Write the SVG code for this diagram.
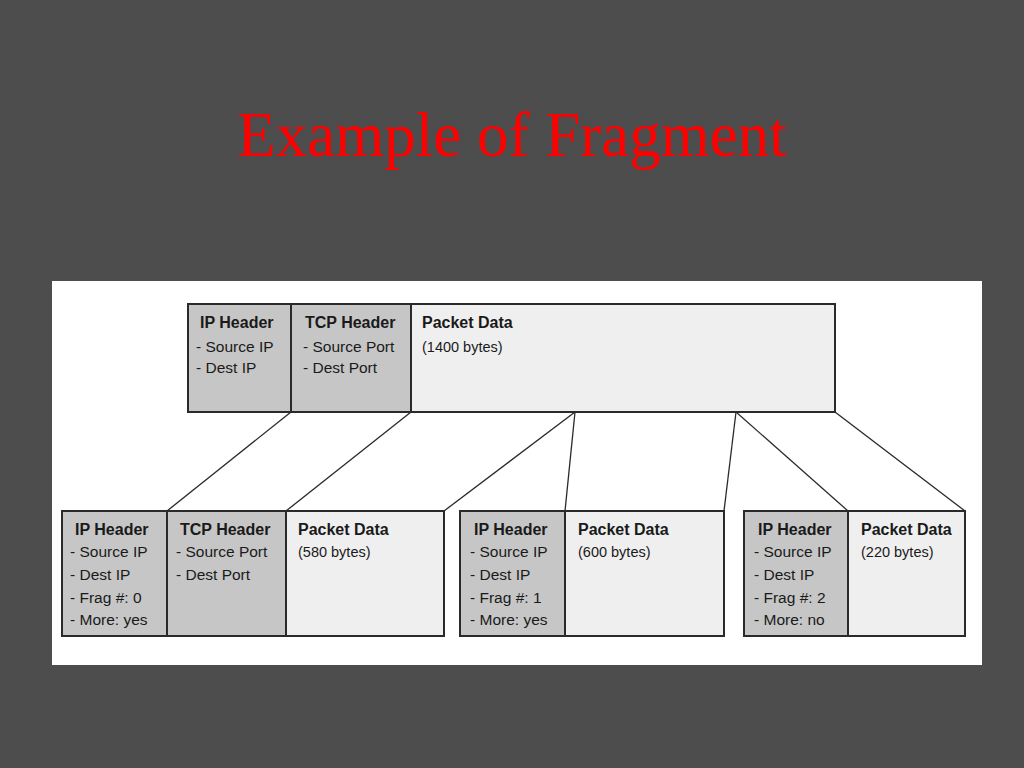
<svg xmlns="http://www.w3.org/2000/svg" width="1024" height="768" viewBox="0 0 1024 768">
<style>
.hdr{fill:#c6c6c6;stroke:#2a2a2a;stroke-width:2}
.dat{fill:#efefef;stroke:#2a2a2a;stroke-width:2}
.b{font-family:"Liberation Sans",Arial,sans-serif;font-weight:bold;font-size:16px;fill:#1a1a1a}
.r{font-family:"Liberation Sans",Arial,sans-serif;font-size:15.5px;fill:#1a1a1a}
.s{font-family:"Liberation Sans",Arial,sans-serif;font-size:14.5px;fill:#1a1a1a}
.ln{stroke:#2a2a2a;stroke-width:1.3;fill:none}
</style>
<rect x="0" y="0" width="1024" height="768" fill="#4d4d4d"/>
<text x="512" y="156" text-anchor="middle" font-family="'Liberation Serif','Times New Roman',serif" font-size="63" fill="#ff0000">Example of Fragment</text>
<rect x="52" y="281" width="930" height="384" fill="#ffffff"/>
<g id="connectors">
<line class="ln" x1="291" y1="412" x2="167" y2="511"/>
<line class="ln" x1="411" y1="412" x2="286" y2="511"/>
<line class="ln" x1="575" y1="412" x2="444" y2="511"/>
<line class="ln" x1="575" y1="412" x2="565" y2="511"/>
<line class="ln" x1="736" y1="412" x2="724" y2="511"/>
<line class="ln" x1="736" y1="412" x2="848" y2="511"/>
<line class="ln" x1="835" y1="412" x2="965" y2="511"/>
</g>
<g id="original">
<rect class="hdr" x="188" y="304" width="103" height="108"/>
<rect class="hdr" x="291" y="304" width="120" height="108"/>
<rect class="dat" x="411" y="304" width="424" height="108"/>
<text class="b" x="200" y="328">IP Header</text>
<text class="r" x="196" y="352">- Source IP</text>
<text class="r" x="196" y="373">- Dest IP</text>
<text class="b" x="305" y="328">TCP Header</text>
<text class="r" x="303" y="352">- Source Port</text>
<text class="r" x="303" y="373">- Dest Port</text>
<text class="b" x="422" y="328">Packet Data</text>
<text class="s" x="422" y="352">(1400 bytes)</text>
</g>
<g id="frag0">
<rect class="hdr" x="62" y="511" width="105" height="125"/>
<rect class="hdr" x="167" y="511" width="119" height="125"/>
<rect class="dat" x="286" y="511" width="158" height="125"/>
<text class="b" x="75" y="535">IP Header</text>
<text class="r" x="70" y="557">- Source IP</text>
<text class="r" x="70" y="580">- Dest IP</text>
<text class="r" x="70" y="603">- Frag #: 0</text>
<text class="r" x="70" y="625">- More: yes</text>
<text class="b" x="180" y="535">TCP Header</text>
<text class="r" x="176" y="557">- Source Port</text>
<text class="r" x="176" y="580">- Dest Port</text>
<text class="b" x="298" y="535">Packet Data</text>
<text class="s" x="298" y="557">(580 bytes)</text>
</g>
<g id="frag1">
<rect class="hdr" x="460" y="511" width="105" height="125"/>
<rect class="dat" x="565" y="511" width="159" height="125"/>
<text class="b" x="474" y="535">IP Header</text>
<text class="r" x="470" y="557">- Source IP</text>
<text class="r" x="470" y="580">- Dest IP</text>
<text class="r" x="470" y="603">- Frag #: 1</text>
<text class="r" x="470" y="625">- More: yes</text>
<text class="b" x="578" y="535">Packet Data</text>
<text class="s" x="578" y="557">(600 bytes)</text>
</g>
<g id="frag2">
<rect class="hdr" x="744" y="511" width="104" height="125"/>
<rect class="dat" x="848" y="511" width="117" height="125"/>
<text class="b" x="758" y="535">IP Header</text>
<text class="r" x="754" y="557">- Source IP</text>
<text class="r" x="754" y="580">- Dest IP</text>
<text class="r" x="754" y="603">- Frag #: 2</text>
<text class="r" x="754" y="625">- More: no</text>
<text class="b" x="861" y="535">Packet Data</text>
<text class="s" x="861" y="557">(220 bytes)</text>
</g>
</svg>
